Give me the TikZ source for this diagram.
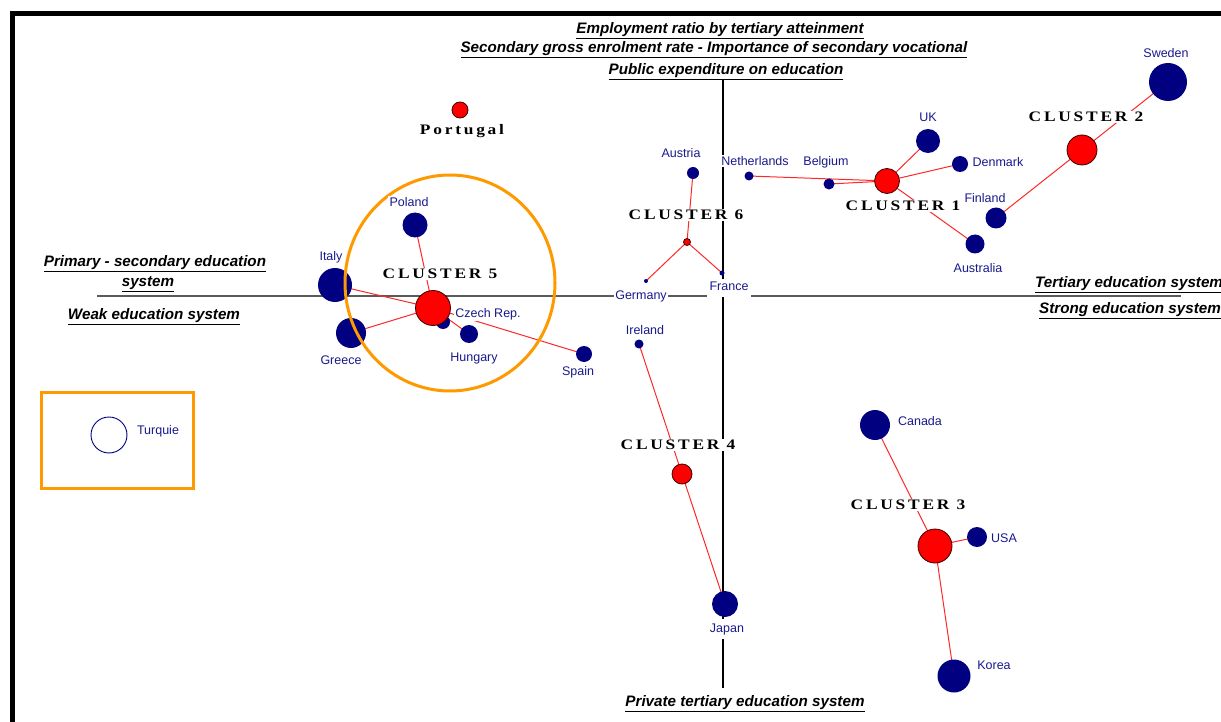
\documentclass[tikz,border=0pt]{standalone}
\usepackage{fontspec}
\setmainfont{Liberation Sans}
\newfontfamily\clusterfont[FakeStretch=1.2,LetterSpace=19]{Liberation Serif}
\usetikzlibrary{shapes.geometric}
\pgfdeclarelayer{bg}
\pgfsetlayers{bg,main}
\definecolor{navy}{RGB}{0,0,128}
\definecolor{labnavy}{RGB}{25,25,140}
\definecolor{linkred}{RGB}{255,40,40}
\definecolor{darkred}{RGB}{60,0,0}
\definecolor{ringorange}{RGB}{255,153,0}
\definecolor{axisgray}{RGB}{90,90,90}
\tikzset{
  navydot/.style={circle, fill=navy, inner sep=0pt, minimum size=#1},
  navydot/.default=10,
  reddot/.style={circle, fill=red, draw=darkred, line width=0.8pt, inner sep=0pt, minimum size=#1},
  reddot/.default=20,
  clab/.style={text=labnavy, font=\fontsize{12.5}{14}\selectfont, fill=white, inner sep=1.5pt},
  clus/.style={font=\clusterfont\bfseries\fontsize{14.5}{16}\selectfont, fill=white, inner sep=1pt},
  axlab/.style={font=\bfseries\itshape\fontsize{15.2}{17}\selectfont, inner sep=1pt},
  link/.style={draw=linkred, line width=1pt},
}
\begin{document}
\begin{tikzpicture}[x=1pt,y=-1pt]
\useasboundingbox (0,0) rectangle (1221,722);

% axis end points
\coordinate (hl) at (97,296);
\coordinate (hr) at (1181,296);
\coordinate (vt) at (723,80);
\coordinate (vb) at (723,688);

% cluster 1
\node[navydot=24] (uk) at (928,141) {};
\node[navydot=16] (denmark) at (960,164) {};
\node[navydot=11] (belgium) at (829,184) {};
\node[navydot=9] (netherlands) at (749,176) {};
\node[navydot=21] (finland) at (996,218) {};
\node[navydot=19] (australia) at (975,244) {};
\node[reddot=25] (c1) at (887,181) {};
% cluster 2
\node[navydot=38] (sweden) at (1168,82) {};
\node[reddot=30] (c2) at (1082,150) {};
% cluster 6
\node[navydot=12] (austria) at (693,173) {};
\node[navydot=4] (germany) at (646,281) {};
\node[navydot=5] (france) at (722,273) {};
\node[reddot=7] (c6) at (687,242) {};
% Portugal
\node[reddot=16] (portugal) at (460,110) {};
% cluster 5
\node[navydot=25] (poland) at (415,225) {};
\node[navydot=34] (italy) at (335,285) {};
\node[navydot=30] (greece) at (351,333) {};
\node[navydot=14] (czech) at (443,322) {};
\node[navydot=18] (hungary) at (469,334) {};
\node[navydot=16] (spain) at (584,354) {};
\node[reddot=35] (c5) at (433,308) {};
% cluster 4
\node[navydot=9] (ireland) at (639,344) {};
\node[navydot=26] (japan) at (725,604) {};
\node[reddot=20] (c4) at (682,474) {};
% cluster 3
\node[navydot=30] (canada) at (875,425) {};
\node[navydot=20] (usa) at (977,537) {};
\node[navydot=33] (korea) at (954,676) {};
\node[reddot=34] (c3) at (935,546) {};
% Turquie
\node[circle, draw=navy, line width=0.9pt, inner sep=0pt, minimum size=36] (turquie) at (109,435) {};

% highlight ring and box
\node[ellipse, draw=ringorange, line width=3pt, minimum width=210, minimum height=216, inner sep=0pt] (ring) at (450,283) {};
\draw[ringorange, line width=3pt] (41,392) rectangle (193,488);

\begin{pgfonlayer}{bg}
  \fill[white] (0,0) rectangle (1221,722);
  % frame edges
  \fill[black] (10,11) rectangle (1221,16);
  \fill[black] (10,11) rectangle (15,722);
  % axes
  \draw[axisgray, line width=1.2pt] (hl) -- (hr);
  \draw[black, line width=1.2pt] (vt) -- (vb);
  % links from members to cluster centres
  \draw[link] (netherlands.center) -- (c1.center);
  \draw[link] (belgium.center) -- (c1.center);
  \draw[link] (uk.center) -- (c1.center);
  \draw[link] (denmark.center) -- (c1.center);
  \draw[link] (australia.center) -- (c1.center);
  \draw[link] (sweden.center) -- (c2.center);
  \draw[link] (finland.center) -- (c2.center);
  \draw[link] (austria.center) -- (c6.center);
  \draw[link] (germany.center) -- (c6.center);
  \draw[link] (france.center) -- (c6.center);
  \draw[link] (poland.center) -- (c5.center);
  \draw[link] (italy.center) -- (c5.center);
  \draw[link] (greece.center) -- (c5.center);
  \draw[link] (czech.center) -- (c5.center);
  \draw[link] (hungary.center) -- (c5.center);
  \draw[link] (spain.center) -- (c5.center);
  \draw[link] (ireland.center) -- (c4.center);
  \draw[link] (japan.center) -- (c4.center);
  \draw[link] (canada.center) -- (c3.center);
  \draw[link] (usa.center) -- (c3.center);
  \draw[link] (korea.center) -- (c3.center);
\end{pgfonlayer}

% country labels
\node[clab] (l-sweden) at (1166,53) {Sweden};
\node[clab] (l-uk) at (928,117) {UK};
\node[clab] (l-denmark) at (998,162) {Denmark};
\node[clab] (l-finland) at (985,198) {Finland};
\node[clab] (l-australia) at (978,268) {Australia};
\node[clab] (l-belgium) at (826,162) {Belgium};
\node[clab] (l-netherlands) at (755,161) {Netherlands};
\node[clab] (l-austria) at (681,153) {Austria};
\node[clab, inner ysep=3pt] (l-germany) at (641,296) {Germany};
\node[clab, inner sep=3pt, text depth=3pt] (l-france) at (729,288) {France};
\node[clab] (l-poland) at (409,202) {Poland};
\node[clab] (l-italy) at (331,257) {Italy};
\node[clab] (l-czech) at (488,314) {Czech Rep.};
\node[clab] (l-greece) at (341,360) {Greece};
\node[clab] (l-hungary) at (474,358) {Hungary};
\node[clab] (l-spain) at (578,372) {Spain};
\node[clab] (l-ireland) at (645,330) {Ireland};
\node[clab, inner ysep=4pt] (l-japan) at (727,629) {Japan};
\node[clab] (l-canada) at (920,421) {Canada};
\node[clab] (l-usa) at (1004,538) {USA};
\node[clab] (l-korea) at (994,665) {Korea};
\node[clab] (l-turquie) at (158,431) {Turquie};

% cluster labels
\node[clus] (t-c1) at (903,206) {CLUSTER 1};
\node[clus] (t-c2) at (1086,117) {CLUSTER 2};
\node[clus] (t-c3) at (908,505) {CLUSTER 3};
\node[clus] (t-c4) at (678,445) {CLUSTER 4};
\node[clus] (t-c5) at (440,274) {CLUSTER 5};
\node[clus] (t-c6) at (686,215) {CLUSTER 6};
\node[clus] (t-portugal) at (462,131) {Portugal};

% axis labels
\node[axlab] (a-top1) at (720,31) {\underline{Employment ratio by tertiary atteinment}};
\node[axlab] (a-top2) at (714,50) {\underline{Secondary gross enrolment rate - Importance of secondary vocational}};
\node[axlab] (a-top3) at (726,72) {\underline{Public expenditure on education}};
\node[axlab] (a-bottom) at (745,704) {\underline{Private tertiary education system}};
\node[axlab] (a-left1) at (155,264) {\underline{Primary - secondary education}};
\node[axlab] (a-left2) at (148,284) {\underline{system}};
\node[axlab] (a-weak) at (154,317) {\underline{Weak education system}};
\node[axlab, anchor=west] (a-tertiary) at (1034,285) {\underline{Tertiary education system}};
\node[axlab, anchor=west] (a-strong) at (1038,311) {\underline{Strong education system}};
\end{tikzpicture}
\end{document}
